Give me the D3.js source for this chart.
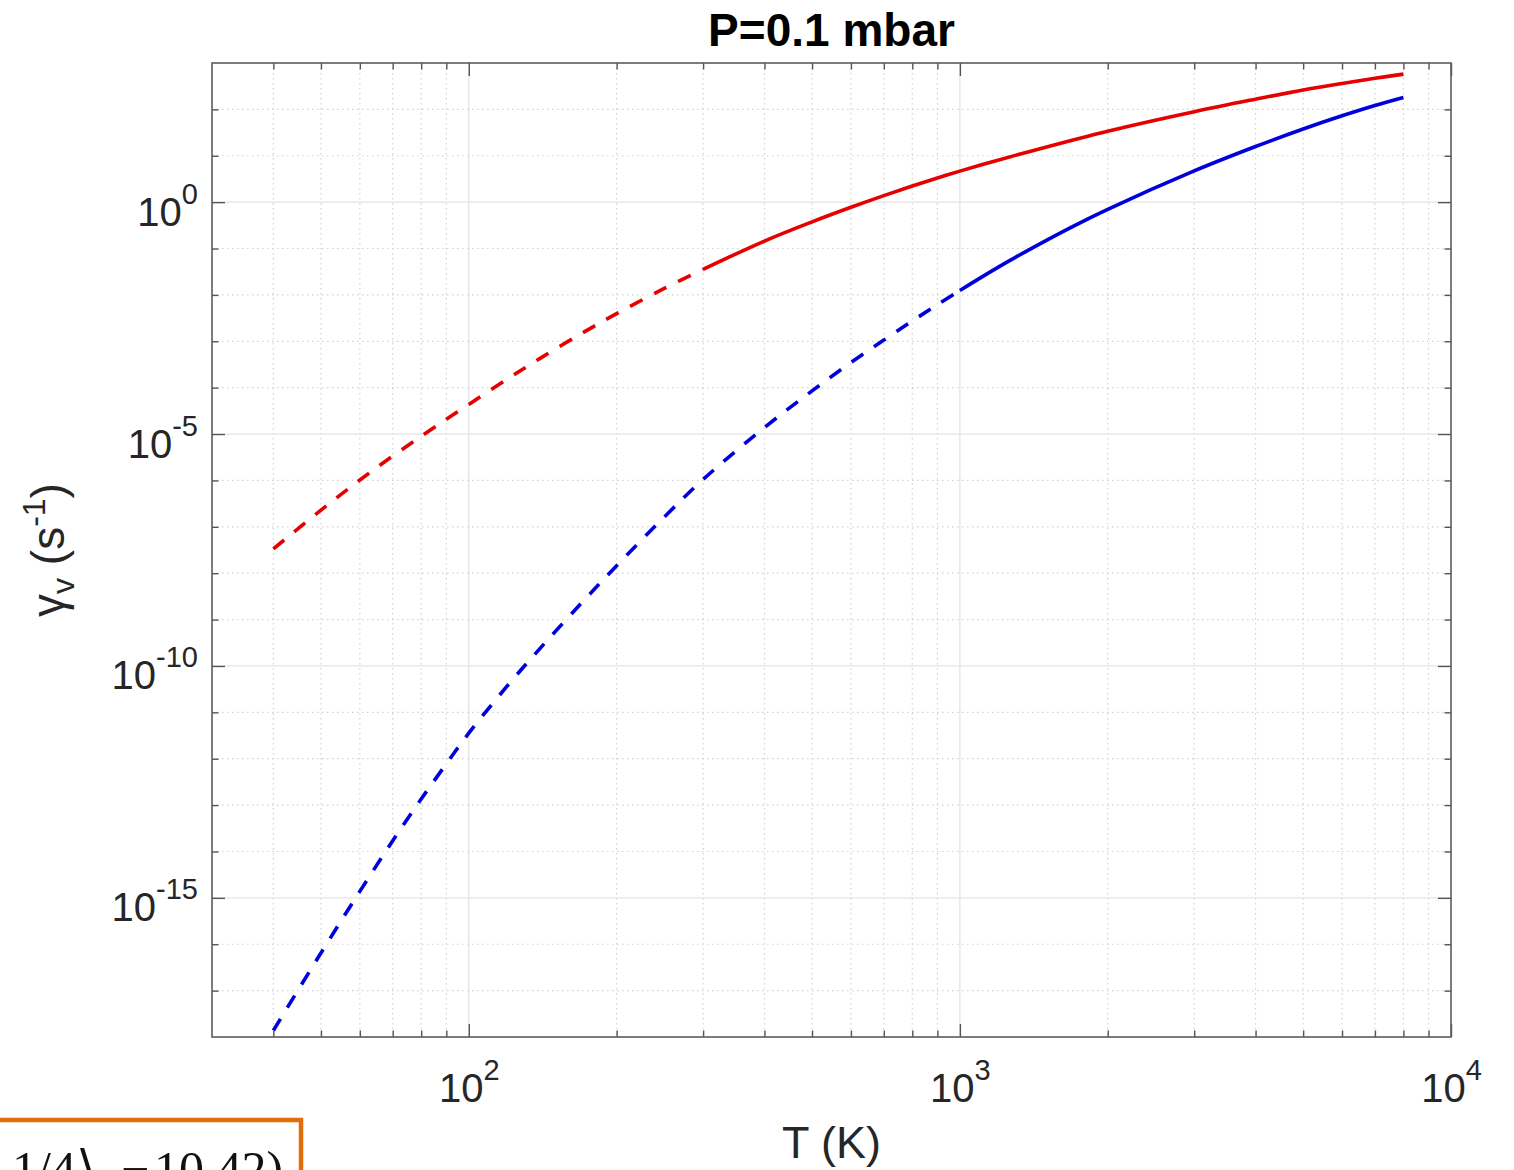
<!DOCTYPE html>
<html>
<head>
<meta charset="utf-8">
<script src="https://cdn.jsdelivr.net/npm/d3@7"></script>
<style>
  html, body { margin: 0; padding: 0; background: #fff; }
  svg { display: block; font-family: "Liberation Sans", Arial, Helvetica, sans-serif; }
</style>
</head>
<body>
<svg id="chart" width="1514" height="1170"></svg>
<script>
// Temperature grid (K) shared by both rate curves
const temperatures = [40, 50, 60, 70, 80, 90, 100, 120, 140, 170, 200, 250, 300, 400, 500, 600,
                      700, 800, 900, 1000, 1200, 1400, 1700, 2000, 3000, 4000, 5000, 6000, 7000, 8000];

// Rate gamma_v (s^-1), red curve
const gammaRed = [3.35e-8, 2.28e-7, 1.02e-6, 3.36e-6, 8.95e-6, 2.08e-5, 4.36e-5, 1.55e-4, 4.34e-4,
                  1.49e-3, 3.94e-3, 1.38e-2, 3.56e-2, 0.145, 0.376, 0.776, 1.385, 2.23, 3.32, 4.66,
                  8.13, 12.7, 21.9, 33.9, 89.1, 166, 263, 363, 468, 575];

// Rate gamma_v (s^-1), blue curve
const gammaBlue = [1.38e-18, 6.46e-17, 1.38e-15, 1.70e-14, 1.35e-13, 7.76e-13, 3.55e-12, 3.80e-11,
                   2.45e-10, 2.34e-9, 1.45e-8, 1.62e-7, 1.05e-6, 1.38e-5, 8.51e-5, 3.47e-4, 1.06e-3,
                   2.74e-3, 6.18e-3, 1.25e-2, 4.03e-2, 0.101, 0.301, 0.700, 4.71, 15.8, 37.7, 72.6, 121, 180];

// Below these temperatures the curves are drawn dashed
const redSolidFrom = 300;
const blueSolidFrom = 1000;

// Axis ranges and labelled ticks
const xDomain = [30, 1e4];
const yDomain = [1e-18, 1e3];
const xTickValues = [1e2, 1e3, 1e4];
const xTickExponents = ["2", "3", "4"];
const yTickValues = [1e0, 1e-5, 1e-10, 1e-15];
const yTickExponents = ["0", "-5", "-10", "-15"];

const titleText = "P=0.1 mbar";
const xLabelText = "T (K)";

// ---- layout ----
const svg = d3.select("#chart");
const plot = { left: 212, right: 1451, top: 63, bottom: 1037 };

const x = d3.scaleLog().domain(xDomain).range([plot.left, plot.right]);
const y = d3.scaleLog().domain(yDomain).range([plot.bottom, plot.top]);

// minor positions: 2..9 x each decade on x, every decade on y
const xMinor = [];
for (let d = 1; d <= 3; d++) for (let k = 2; k <= 9; k++) {
  const v = k * Math.pow(10, d);
  if (v > xDomain[0] && v < xDomain[1]) xMinor.push(v);
}
const yMinor = [];
for (let e = -17; e <= 2; e++) if (e % 5 !== 0) yMinor.push(Math.pow(10, e));

const gridG = svg.append("g");
// minor grid (dotted)
gridG.selectAll(".gx-minor").data(xMinor).join("line")
  .attr("x1", d => x(d)).attr("x2", d => x(d))
  .attr("y1", plot.top).attr("y2", plot.bottom)
  .attr("stroke", "#d2d2d2").attr("stroke-width", 1.2).attr("stroke-dasharray", "1.5,3.5");
gridG.selectAll(".gy-minor").data(yMinor).join("line")
  .attr("y1", d => y(d)).attr("y2", d => y(d))
  .attr("x1", plot.left).attr("x2", plot.right)
  .attr("stroke", "#d2d2d2").attr("stroke-width", 1.2).attr("stroke-dasharray", "1.5,3.5");
// major grid (solid, faint)
gridG.selectAll(".gx-major").data(xTickValues.filter(v => v < xDomain[1])).join("line")
  .attr("x1", d => x(d)).attr("x2", d => x(d))
  .attr("y1", plot.top).attr("y2", plot.bottom)
  .attr("stroke", "#e4e4e4").attr("stroke-width", 1.3);
gridG.selectAll(".gy-major").data(yTickValues).join("line")
  .attr("y1", d => y(d)).attr("y2", d => y(d))
  .attr("x1", plot.left).attr("x2", plot.right)
  .attr("stroke", "#e4e4e4").attr("stroke-width", 1.3);

// ---- curves ----
const line = d3.line().x(d => x(d.t)).y(d => y(d.v)).curve(d3.curveCatmullRom.alpha(0.5));

function drawSeries(values, splitT, color) {
  const pts = temperatures.map((t, i) => ({ t, v: values[i] }));
  const dashed = pts.filter(p => p.t <= splitT);
  const solid = pts.filter(p => p.t >= splitT);
  svg.append("path").datum(dashed).attr("d", line)
    .attr("fill", "none").attr("stroke", color).attr("stroke-width", 3.6)
    .attr("stroke-dasharray", "14,13");
  svg.append("path").datum(solid).attr("d", line)
    .attr("fill", "none").attr("stroke", color).attr("stroke-width", 3.6);
}
drawSeries(gammaRed, redSolidFrom, "#e60000");
drawSeries(gammaBlue, blueSolidFrom, "#0000dc");

// ---- axes box and ticks ----
const tickColor = "#555";
function styleAxis(g) {
  g.select(".domain").remove();
  g.selectAll(".tick line").attr("stroke", tickColor).attr("stroke-width", 1.4);
}
const majorLen = 13, minorLen = 6.5;

svg.append("g").attr("transform", `translate(0,${plot.bottom})`)
  .call(d3.axisBottom(x).tickValues(xMinor).tickSize(-minorLen).tickFormat("")).call(styleAxis);
svg.append("g").attr("transform", `translate(0,${plot.top})`)
  .call(d3.axisTop(x).tickValues(xMinor).tickSize(-minorLen).tickFormat("")).call(styleAxis);
svg.append("g").attr("transform", `translate(${plot.left},0)`)
  .call(d3.axisLeft(y).tickValues(yMinor).tickSize(-minorLen).tickFormat("")).call(styleAxis);
svg.append("g").attr("transform", `translate(${plot.right},0)`)
  .call(d3.axisRight(y).tickValues(yMinor).tickSize(-minorLen).tickFormat("")).call(styleAxis);

// major ticks with power-of-ten labels
const xAxisG = svg.append("g").attr("transform", `translate(0,${plot.bottom})`)
  .call(d3.axisBottom(x).tickValues(xTickValues).tickSize(-majorLen).tickFormat(""))
  .call(styleAxis);
svg.append("g").attr("transform", `translate(0,${plot.top})`)
  .call(d3.axisTop(x).tickValues(xTickValues).tickSize(-majorLen).tickFormat("")).call(styleAxis);
const yAxisG = svg.append("g").attr("transform", `translate(${plot.left},0)`)
  .call(d3.axisLeft(y).tickValues(yTickValues).tickSize(-majorLen).tickFormat(""))
  .call(styleAxis);
svg.append("g").attr("transform", `translate(${plot.right},0)`)
  .call(d3.axisRight(y).tickValues(yTickValues).tickSize(-majorLen).tickFormat("")).call(styleAxis);

function powLabel(sel, exps, values) {
  sel.selectAll(".tick").each(function (d) {
    const i = values.indexOf(d);
    const t = d3.select(this).select("text");
    t.text(null).attr("fill", "#262626").attr("font-size", 40)
      .attr("font-family", "'Liberation Sans', Arial, sans-serif");
    t.append("tspan").text("10");
    t.append("tspan").attr("font-size", 29).attr("dy", -22).text(exps[i]);
  });
}
xAxisG.selectAll(".tick text").attr("y", 65).attr("dy", 0).attr("text-anchor", "middle");
powLabel(xAxisG, xTickExponents, xTickValues);
yAxisG.selectAll(".tick text").attr("x", -14).attr("dy", 23).attr("text-anchor", "end");
powLabel(yAxisG, yTickExponents, yTickValues);

svg.append("rect")
  .attr("x", plot.left).attr("y", plot.top)
  .attr("width", plot.right - plot.left).attr("height", plot.bottom - plot.top)
  .attr("fill", "none").attr("stroke", "#5c5c5c").attr("stroke-width", 1.6);

// ---- titles ----
svg.append("text").attr("x", (plot.left + plot.right) / 2).attr("y", 46)
  .attr("text-anchor", "middle").attr("font-weight", "bold").attr("font-size", 46)
  .attr("fill", "#000").text(titleText);

svg.append("text").attr("x", (plot.left + plot.right) / 2).attr("y", 1158)
  .attr("text-anchor", "middle").attr("font-size", 45).attr("fill", "#262626").text(xLabelText);

const yl = svg.append("text").attr("transform", "translate(64,550) rotate(-90)")
  .attr("text-anchor", "middle").attr("font-size", 46).attr("fill", "#262626");
yl.append("tspan").text("γ");
yl.append("tspan").attr("font-size", 32).attr("dy", 10).text("v");
yl.append("tspan").attr("dy", -10).text(" (s");
yl.append("tspan").attr("font-size", 32).attr("dy", -19).text("-1");
yl.append("tspan").attr("dy", 19).text(")");

// ---- inset formula box at the lower left ----
svg.append("rect").attr("x", -10).attr("y", 1120).attr("width", 311).attr("height", 120)
  .attr("fill", "#fff").attr("stroke", "#e36c0a").attr("stroke-width", 4.5);
const f = svg.append("g").attr("font-family", "'Liberation Serif', 'DejaVu Serif', serif")
  .attr("font-size", 50).attr("fill", "#111");
f.append("text").attr("x", 12).attr("y", 1186).text("1/4⟩");
f.append("text").attr("x", 121).attr("y", 1186).text("−");
f.append("text").attr("x", 154).attr("y", 1186).text("10.42)");
</script>
</body>
</html>
